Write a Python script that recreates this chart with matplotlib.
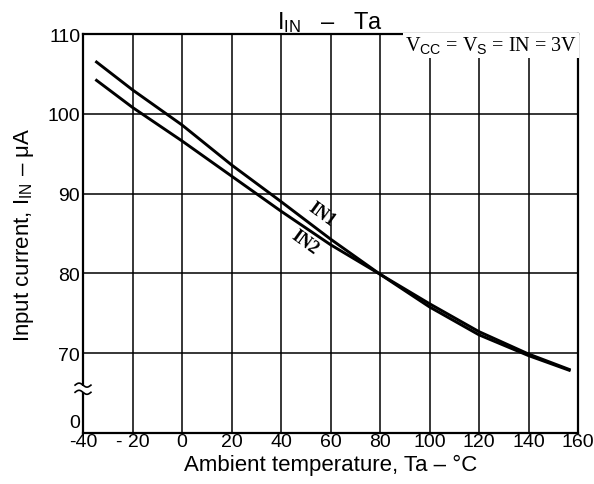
import numpy as np
import matplotlib
matplotlib.use("Agg")
import matplotlib.pyplot as plt
from matplotlib.transforms import ScaledTranslation

# ---- data ----
temp = [-35, -20, 0, 20, 40, 60, 80, 100, 120, 140, 157]
in1 = [106.6, 103.0, 98.6, 93.6, 89.0, 84.3, 79.9, 75.8, 72.3, 69.7, 67.8]
in2 = [104.3, 100.8, 96.6, 92.2, 87.8, 83.6, 79.9, 76.2, 72.7, 69.9, 67.9]
x_ticks = [-40, -20, 0, 20, 40, 60, 80, 100, 120, 140, 160]
x_ticklabels = ["-40", "- 20", "0", "20", "40", "60", "80", "100", "120", "140", "160"]
y_ticks = [60, 70, 80, 90, 100, 110]          # 60 on the plot stands for 0 (broken axis)
y_ticklabels = ["0", "70", "80", "90", "100", "110"]

plt.rcParams['font.family'] = ['Liberation Sans', 'DejaVu Sans']
plt.rcParams['mathtext.fontset'] = 'custom'
plt.rcParams['mathtext.rm'] = 'Liberation Sans'
plt.rcParams['mathtext.it'] = 'Liberation Sans'

fig = plt.figure(figsize=(5.94, 4.85), dpi=100)
ax = fig.add_axes([83/594, 51/485, 495/594, 399/485])

ax.set_xlim(-40, 160)
ax.set_ylim(60, 110)
ax.set_xticks(x_ticks)
ax.set_xticklabels(x_ticklabels, fontsize=14)
ax.set_yticks(y_ticks)
ax.set_yticklabels(y_ticklabels, fontsize=14)
ax.tick_params(length=0, pad=2)
ax.tick_params(axis='x', pad=0)
ax.grid(True, color='black', linewidth=1.1)
ax.set_axisbelow(True)
for s in ax.spines.values():
    s.set_linewidth(1.6)

# raise the "0" y label a little, like the reference
lbl0 = ax.get_yticklabels()[0]
lbl0.set_transform(lbl0.get_transform() + ScaledTranslation(0, 9/72, fig.dpi_scale_trans))

ax.plot(temp, in1, color='black', linewidth=2.1, solid_capstyle='butt', zorder=3)
ax.plot(temp, in2, color='black', linewidth=2.1, solid_capstyle='butt', zorder=3)

ax.text(56.6, 87.4, "IN1", family='Liberation Serif', fontweight='bold', fontsize=13,
        rotation=-36, ha='center', va='center', zorder=4)
ax.text(49.7, 84.0, "IN2", family='Liberation Serif', fontweight='bold', fontsize=13,
        rotation=-36, ha='center', va='center', zorder=4)

# condition box
ax.text(159.5, 108.6, r"V$_{\rm CC}$ = V$_{\rm S}$ = IN = 3V", family='Liberation Serif',
        fontsize=14.5, ha='right', va='center', zorder=5,
        bbox=dict(facecolor='white', edgecolor='none', pad=1.5))

ax.set_title(r"I$_{\rm IN}$   –   Ta", fontsize=17, pad=2, x=0.50)
ax.set_xlabel("Ambient temperature, Ta – °C", fontsize=16, labelpad=3)
ax.set_ylabel(r"Input current, I$_{\rm IN}$ – μA", fontsize=16, labelpad=8)

# axis break mark
ax.add_patch(plt.Rectangle((-42, 65.2), 4, 0.75, transform=ax.transData,
                           facecolor='white', edgecolor='none', clip_on=False, zorder=6))
wx = np.linspace(-43.2, -36.8, 30)
for yc in (66.0, 65.1):
    wy = yc + 0.25 * np.sin((wx + 43.2) / 6.4 * 2 * np.pi)
    ax.plot(wx, wy, color='black', linewidth=1.2, clip_on=False, zorder=7)

fig.savefig("out.png", dpi=100)
